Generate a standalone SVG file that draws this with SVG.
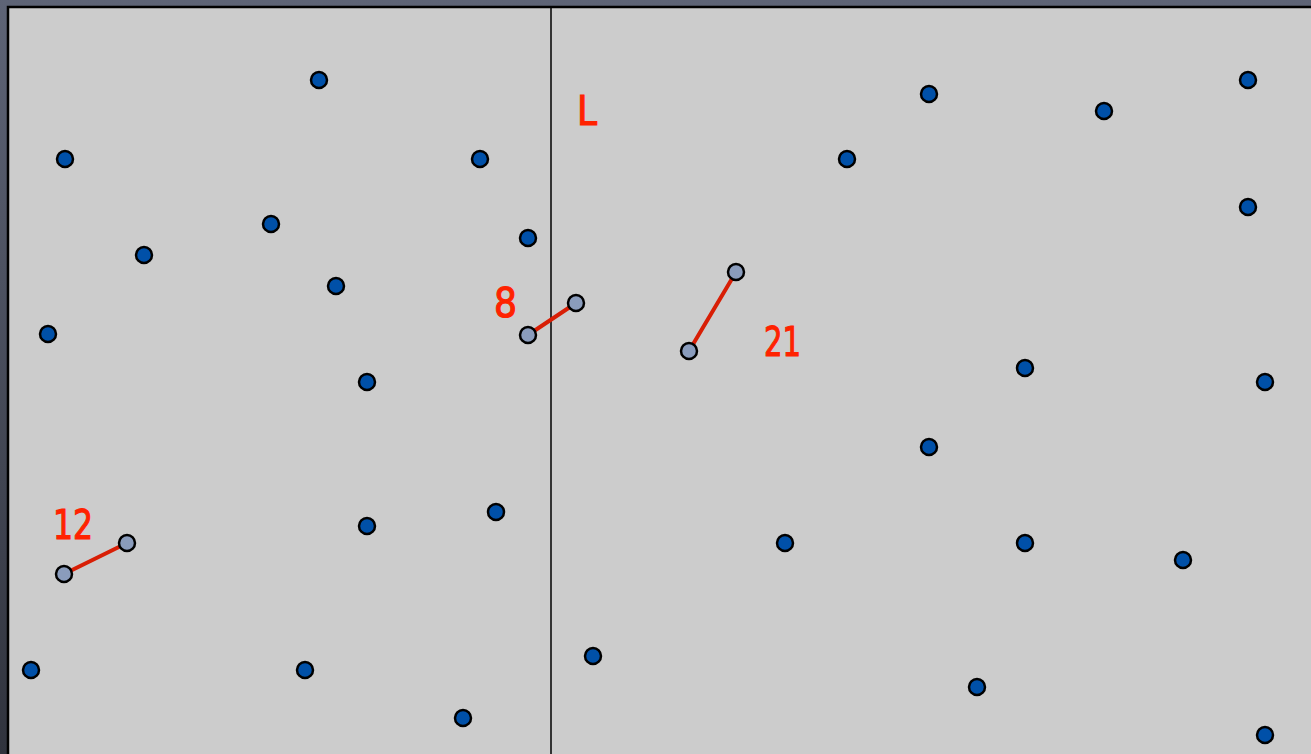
<svg xmlns="http://www.w3.org/2000/svg" width="1311" height="754" viewBox="0 0 1311 754">
<defs>
<linearGradient id="bg" x1="0" y1="0" x2="0" y2="1">
<stop offset="0" stop-color="#5e6476"/>
<stop offset="1" stop-color="#30333d"/>
</linearGradient>
<style>
.d{fill:#0050a8;stroke:#000;stroke-width:2.5}
.p{fill:#8a9cbc;stroke:#000;stroke-width:2.5}
.e{stroke:#d81e05;stroke-width:4;stroke-linecap:round}
.t{fill:#ff2200;stroke:#ff2200;stroke-width:1.2;font-family:"DejaVu Sans",sans-serif;font-size:40px}
</style>
</defs>
<rect width="1311" height="754" fill="url(#bg)"/>
<rect x="8" y="7" width="1310" height="760" fill="#cccccc" stroke="#000" stroke-width="2.5"/>
<line x1="551" y1="8" x2="551" y2="754" stroke="#000" stroke-width="1.5"/>
<g id="connectors">
<line class="e" x1="528" y1="335" x2="576" y2="303"/>
<line class="e" x1="64" y1="574" x2="127" y2="543"/>
<line class="e" x1="689" y1="351" x2="736" y2="272"/>
</g>
<g id="labels">
<text class="t" x="577" y="125" textLength="20" lengthAdjust="spacingAndGlyphs">L</text>
<text class="t" x="494" y="317" textLength="23" lengthAdjust="spacingAndGlyphs">8</text>
<text class="t" x="53" y="539" textLength="40" lengthAdjust="spacingAndGlyphs">12</text>
<text class="t" x="764" y="356" textLength="37" lengthAdjust="spacingAndGlyphs">21</text>
</g>
<g id="nodes">
<circle id="n1" class="d" cx="319" cy="80" r="8"/>
<circle id="n2" class="d" cx="65" cy="159" r="8"/>
<circle id="n3" class="d" cx="480" cy="159" r="8"/>
<circle id="n4" class="d" cx="271" cy="224" r="8"/>
<circle id="n5" class="d" cx="528" cy="238" r="8"/>
<circle id="n6" class="d" cx="144" cy="255" r="8"/>
<circle id="n7" class="d" cx="336" cy="286" r="8"/>
<circle id="n8" class="d" cx="48" cy="334" r="8"/>
<circle id="n9" class="d" cx="367" cy="382" r="8"/>
<circle id="n10" class="d" cx="367" cy="526" r="8"/>
<circle id="n11" class="d" cx="496" cy="512" r="8"/>
<circle id="n12" class="d" cx="31" cy="670" r="8"/>
<circle id="n13" class="d" cx="305" cy="670" r="8"/>
<circle id="n14" class="d" cx="463" cy="718" r="8"/>
<circle id="n15" class="d" cx="593" cy="656" r="8"/>
<circle id="n16" class="d" cx="929" cy="94" r="8"/>
<circle id="n17" class="d" cx="1104" cy="111" r="8"/>
<circle id="n18" class="d" cx="1248" cy="80" r="8"/>
<circle id="n19" class="d" cx="847" cy="159" r="8"/>
<circle id="n20" class="d" cx="1248" cy="207" r="8"/>
<circle id="n21" class="d" cx="1025" cy="368" r="8"/>
<circle id="n22" class="d" cx="1265" cy="382" r="8"/>
<circle id="n23" class="d" cx="929" cy="447" r="8"/>
<circle id="n24" class="d" cx="785" cy="543" r="8"/>
<circle id="n25" class="d" cx="1025" cy="543" r="8"/>
<circle id="n26" class="d" cx="1183" cy="560" r="8"/>
<circle id="n27" class="d" cx="977" cy="687" r="8"/>
<circle id="n28" class="d" cx="1265" cy="735" r="8"/>
<circle id="p1" class="p" cx="528" cy="335" r="8"/>
<circle id="p2" class="p" cx="576" cy="303" r="8"/>
<circle id="p3" class="p" cx="64" cy="574" r="8"/>
<circle id="p4" class="p" cx="127" cy="543" r="8"/>
<circle id="p5" class="p" cx="689" cy="351" r="8"/>
<circle id="p6" class="p" cx="736" cy="272" r="8"/>
</g>
</svg>
